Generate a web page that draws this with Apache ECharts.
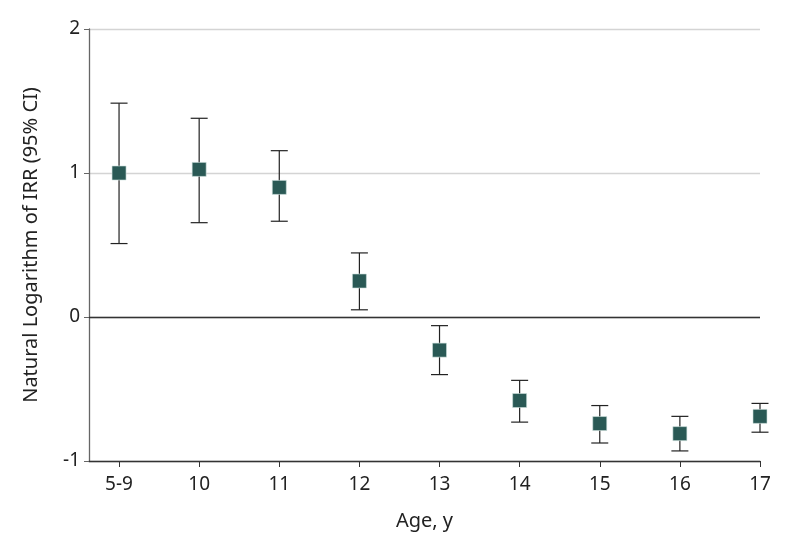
<!DOCTYPE html>
<html><head><meta charset="utf-8">
<script src="https://cdn.jsdelivr.net/npm/echarts@6/dist/echarts.min.js"></script>
<style>html,body{margin:0;padding:0;background:#fff}#c{width:794px;height:546px}</style>
</head><body><div id="c"></div>
<script>
const categories = ['5-9','10','11','12','13','14','15','16','17'];
const estimate = [1.00, 1.025, 0.90, 0.25, -0.23, -0.58, -0.74, -0.81, -0.69];
const lower = [0.51, 0.655, 0.665, 0.05, -0.40, -0.73, -0.875, -0.93, -0.80];
const upper = [1.485, 1.38, 1.155, 0.445, -0.06, -0.44, -0.615, -0.69, -0.60];
const yTicks = [-1, 0, 1, 2];

const FONT = 'Noto Sans';
const chart = echarts.init(document.getElementById('c'));
const idx = categories.map((_, i) => i);
chart.setOption({
  animation: false,
  grid: {left: 89, right: 34, top: 29, bottom: 85},
  xAxis: {
    type: 'value', min: -0.375, max: 8,
    name: 'Age, y', nameLocation: 'middle', nameGap: 50,
    nameTextStyle: {fontFamily: FONT, fontSize: 20, color: '#222'},
    axisLine: {show: true, onZero: false, lineStyle: {color: '#333', width: 1.3}},
    axisTick: {show: true, customValues: idx, length: 6, lineStyle: {color: '#333'}},
    axisLabel: {customValues: idx, formatter: v => categories[Math.round(v)], margin: 14,
      fontFamily: FONT, fontSize: 19, color: '#222'},
    splitLine: {show: false}
  },
  yAxis: {
    type: 'value', min: -1, max: 2, interval: 1,
    name: 'Natural Logarithm of IRR (95% CI)', nameLocation: 'middle', nameGap: 48,
    nameTextStyle: {fontFamily: FONT, fontSize: 20, color: '#222'},
    axisLine: {show: true, onZero: false, lineStyle: {color: '#666', width: 1.3}},
    axisTick: {show: true, length: 5, lineStyle: {color: '#666'}},
    axisLabel: {margin: 9, fontFamily: FONT, fontSize: 19, color: '#222',
      formatter: v => yTicks.includes(v) ? String(v) : ''},
    splitLine: {show: true, lineStyle: {color: '#d4d4d4', width: 1.3}}
  },
  series: [
    {
      type: 'custom',
      renderItem: (params, api) => {
        const x = api.value(0);
        const lo = api.coord([x, api.value(1)]);
        const hi = api.coord([x, api.value(2)]);
        const w = 8.5;
        const st = {stroke: '#222', lineWidth: 1.2};
        return {type: 'group', children: [
          {type: 'line', shape: {x1: lo[0], y1: lo[1], x2: hi[0], y2: hi[1]}, style: st},
          {type: 'line', shape: {x1: lo[0]-w, y1: lo[1], x2: lo[0]+w, y2: lo[1]}, style: st},
          {type: 'line', shape: {x1: hi[0]-w, y1: hi[1], x2: hi[0]+w, y2: hi[1]}, style: st}
        ]};
      },
      data: idx.map(i => [i, lower[i], upper[i]]),
      z: 2
    },
    {
      type: 'line',
      data: [],
      markLine: {
        silent: true, symbol: 'none', label: {show: false},
        lineStyle: {color: '#333', width: 1.3, type: 'solid'},
        data: [{yAxis: 0}]
      }
    },
    {
      type: 'scatter',
      symbol: 'rect', symbolSize: 14,
      itemStyle: {color: '#2a5955', borderColor: '#cfe0de', borderWidth: 0.6, opacity: 1},
      data: idx.map(i => [i, estimate[i]]),
      z: 3
    }
  ]
});
</script></body></html>
